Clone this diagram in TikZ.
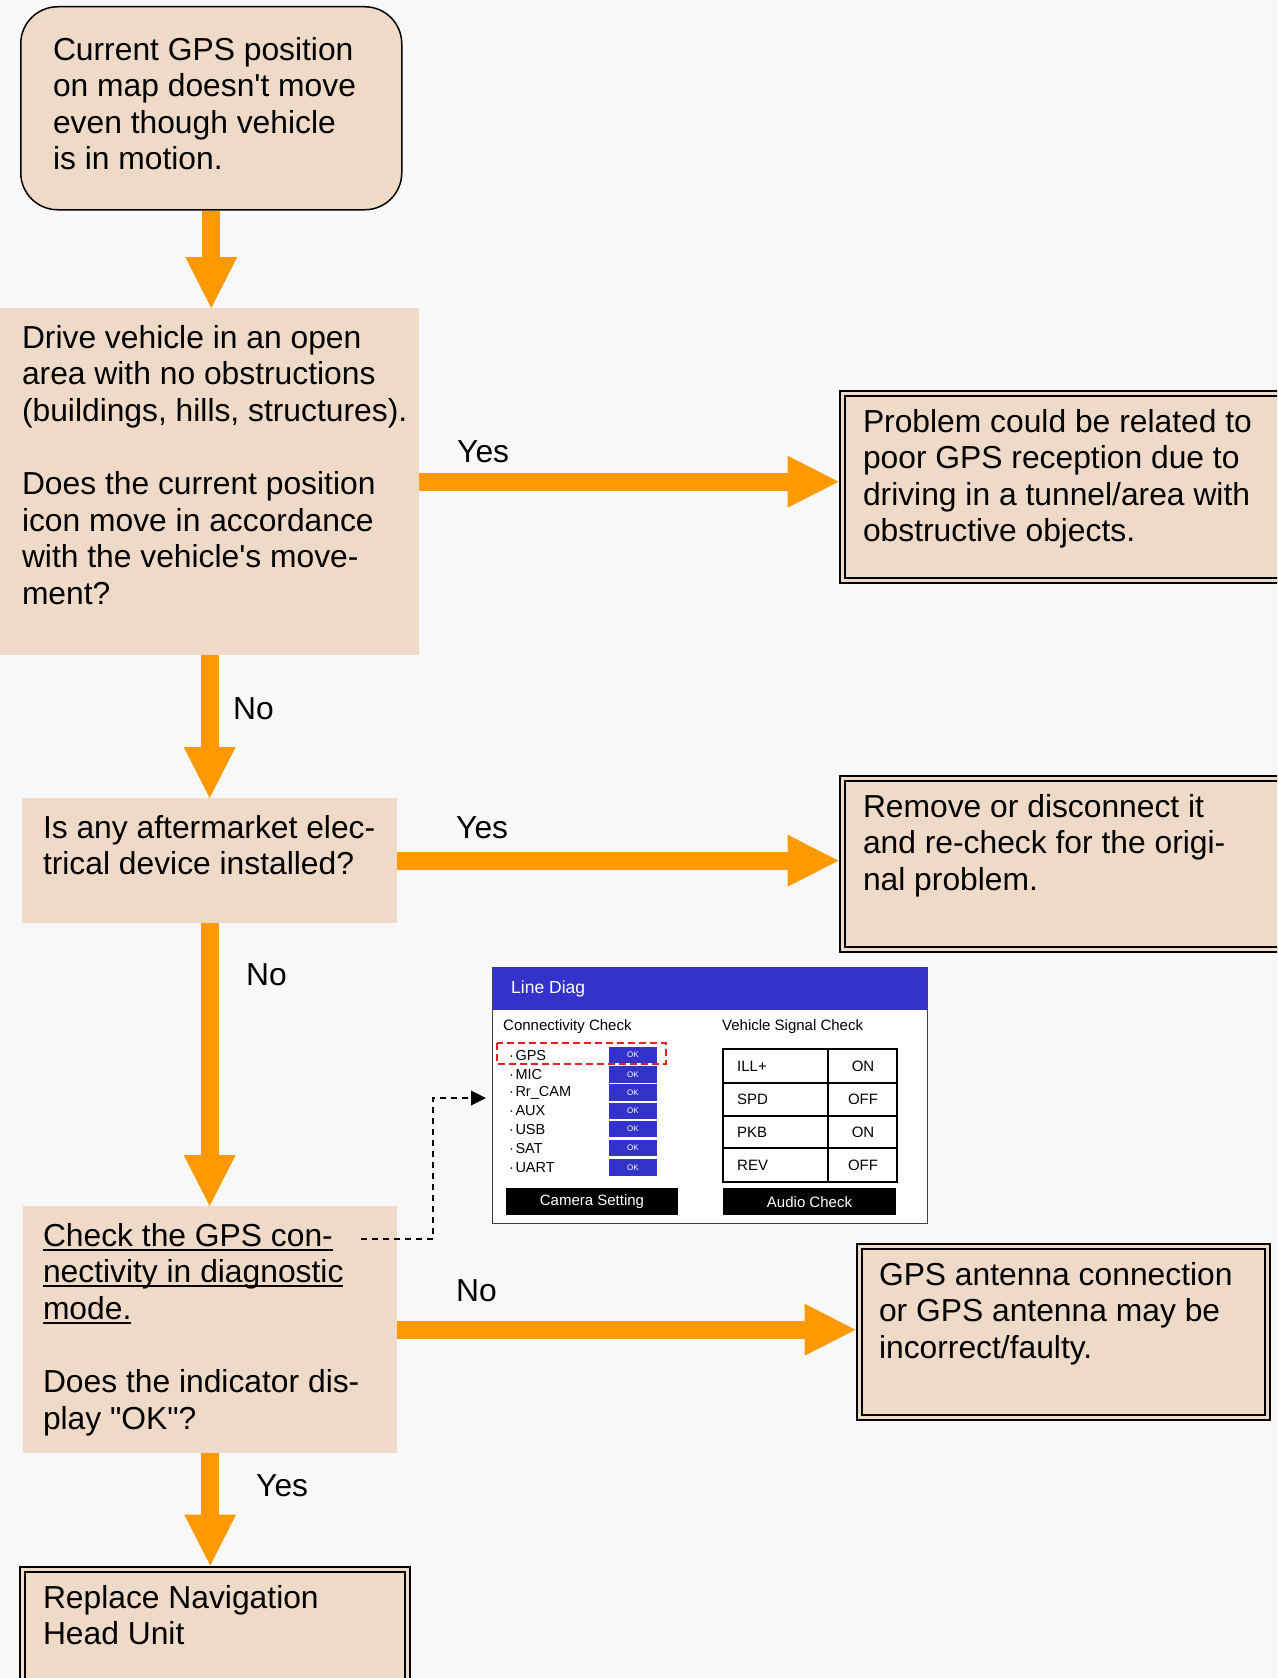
\documentclass[tikz,border=0pt]{standalone}
\usepackage{fontspec}
\setmainfont{Liberation Sans}[Ligatures=TeXOff]
\usetikzlibrary{arrows.meta,calc}
\definecolor{bgc}{RGB}{248,248,248}
\definecolor{peach}{RGB}{239,218,200}
\definecolor{orangec}{RGB}{255,153,0}
\definecolor{diagblue}{RGB}{51,51,204}
\definecolor{redd}{RGB}{235,30,30}
\newcommand{\boxtxt}[1]{\parbox[t]{470pt}{\raggedright\fontsize{31.8}{36.6}\selectfont #1}}
\newcommand{\myul}[1]{\leavevmode\setbox0\hbox{#1}\rlap{\rule[-4.7pt]{\wd0}{2.2pt}}\box0}
\tikzset{
  x=1pt, y=-1pt,
  plainbox/.style={fill=peach, draw=none, inner sep=0pt, anchor=north west},
  startbox/.style={fill=peach, draw=black, line width=1.5pt, rounded corners=37pt, inner sep=0pt, anchor=north west},
  endbox/.style={fill=peach, draw=black, line width=2pt, double=peach, double distance=3pt, inner sep=0pt, outer sep=3.5pt, anchor=north west},
  btext/.style={anchor=base west, inner sep=0pt, outer sep=0pt},
  lbl/.style={anchor=base west, inner sep=0pt, font=\fontsize{31.8}{36.6}\selectfont},
  flow/.style={draw=orangec, line width=18pt, -{Triangle[length=51pt, width=52pt, line width=0pt]}},
  dashconn/.style={draw=black, line width=1.5pt, dash pattern=on 6pt off 5pt, -{Triangle[length=15pt, width=15pt, line width=0pt]}},
  sfont/.style={inner sep=0pt, font=\fontsize{15}{17}\selectfont},
  okfont/.style={inner sep=0pt, text=white, font=\fontsize{8}{9}\selectfont},
}
\begin{document}
\begin{tikzpicture}
\path[use as bounding box, fill=bgc] (0,0) rectangle (1277,1678);
\clip (0,0) rectangle (1277,1678);

% boxes
\node[startbox, minimum width=381pt, minimum height=203pt] (b1) at (20,6) {};
\node[plainbox, minimum width=419pt, minimum height=347pt] (b2) at (0,308) {};
\node[endbox, minimum width=451.5pt, minimum height=187pt] (b3) at (838.5,389.5) {};
\node[plainbox, minimum width=375pt, minimum height=125pt] (b4) at (22,798) {};
\node[endbox, minimum width=451.5pt, minimum height=171pt] (b5) at (838.5,774.5) {};
\node[plainbox, minimum width=374pt, minimum height=247pt] (b6) at (23,1206) {};
\node[endbox, minimum width=408pt, minimum height=171pt] (b7) at (855.5,1242.5) {};
\node[endbox, minimum width=385pt, minimum height=134.5pt] (b8) at (18.5,1565.5) {};

% texts
\node[btext] (t1) at (53,60) {\boxtxt{Current GPS position\\on map doesn't move\\even though vehicle\\is in motion.}};
\node[btext] (t2) at (22,348) {\boxtxt{Drive vehicle in an open\\area with no obstructions\\(buildings, hills, structures).\\[36.6pt]Does the current position\\icon move in accordance\\with the vehicle's move-\\ment?}};
\node[btext] (t3) at (863,432) {\boxtxt{Problem could be related to\\poor GPS reception due to\\driving in a tunnel/area with\\obstructive objects.}};
\node[btext] (t4) at (43,838) {\boxtxt{Is any aftermarket elec-\\trical device installed?}};
\node[btext] (t5) at (863,817) {\boxtxt{Remove or disconnect it\\and re-check for the origi-\\nal problem.}};
\node[btext] (t6) at (43,1246) {\boxtxt{\myul{Check the GPS con-}\\\myul{nectivity in diagnostic}\\\myul{mode.}\\[36.6pt]Does the indicator dis-\\play "OK"?}};
\node[btext] (t7) at (879,1285) {\boxtxt{GPS antenna connection\\or GPS antenna may be\\incorrect/faulty.}};
\node[btext] (t8) at (43,1608) {\boxtxt{Replace Navigation\\Head Unit}};

% flow arrows
\draw[flow] (b1.south) -- (b1.south |- b2.north);
\draw[flow] (b2.east) -- (b2.east -| b3.west);
\draw[flow] (b2.south) -- (b2.south |- b4.north);
\draw[flow] (b4.east) -- (b4.east -| b5.west);
\draw[flow] (b4.south) -- (b4.south |- b6.north);
\draw[flow] (b6.east) -- (b6.east -| b7.west);
\draw[flow] (b6.south) -- (b6.south |- b8.north);

% labels
\node[lbl] (l1) at (457,462) {Yes};
\node[lbl] (l2) at (233,719) {No};
\node[lbl] (l3) at (456,838) {Yes};
\node[lbl] (l4) at (246,985) {No};
\node[lbl] (l5) at (456,1301) {No};
\node[lbl] (l6) at (256,1496) {Yes};

% screenshot
\node[draw=black!75, line width=1pt, fill=white, minimum width=435pt, minimum height=256pt, inner sep=0pt, anchor=north west] (shot) at (492,967) {};
\fill[diagblue] (492.5,967.5) rectangle (926.5,1010);
\node[inner sep=0pt, anchor=west, text=white, font=\fontsize{17.5}{20}\selectfont] (hdr) at (511,989) {Line Diag};
\node[sfont, anchor=west] (cc) at (503,1027) {Connectivity Check};
\node[sfont, anchor=west] (vs) at (722,1027) {Vehicle Signal Check};
\foreach \lab/\yy [count=\i] in {GPS/1055, MIC/1074.5, Rr\_CAM/1092.5, AUX/1111, USB/1129, SAT/1148, UART/1167.5}{
  \node[inner sep=0pt, anchor=west, font=\fontsize{14.5}{16}\selectfont] (it\i) at (509,\yy) {·\kern1.5pt\lab};
  \fill[diagblue] (609,\yy-8.3) rectangle (657,\yy+8.3);
  \node[okfont] (ok\i) at (633,\yy) {OK};
}
\draw[redd, line width=1.6pt, dash pattern=on 7pt off 4pt] (497,1043) rectangle (666,1064);
% table
\draw[line width=2pt] (723,1049) rectangle (897,1182);
\draw[line width=2pt] (828,1049) -- (828,1182);
\foreach \yy in {1083,1116,1148}{\draw[line width=2pt] (723,\yy) -- (897,\yy);}
\foreach \a/\b/\yy [count=\i] in {ILL+/ON/1066, SPD/OFF/1099.5, PKB/ON/1132, REV/OFF/1165}{
  \node[sfont, anchor=west] (tk\i) at (737,\yy) {\a};
  \node[sfont] (tv\i) at (863,\yy) {\b};
}
% buttons
\fill[black] (506,1188) rectangle (678,1215);
\node[sfont, text=white] (cam) at (592,1202) {Camera Setting};
\fill[black] (723,1188) rectangle (896,1215);
\node[sfont, text=white] (aud) at (809.5,1202) {Audio Check};

% dashed connector
\coordinate (dstart) at (361,1239);
\coordinate (dturn) at (433,1098);
\draw[dashconn, shorten >=6pt] (dstart) -| (dturn) -- (dturn -| shot.west);
\end{tikzpicture}
\end{document}
